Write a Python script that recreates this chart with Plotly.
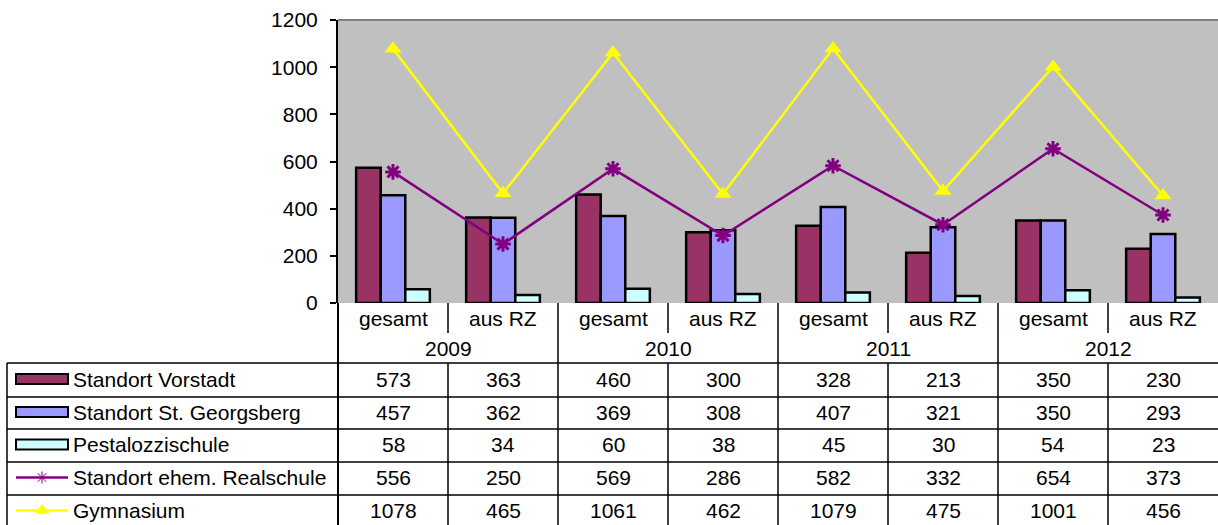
import plotly.graph_objects as go

# ---- data ----
years = ["2009", "2010", "2011", "2012"]
subcats = ["gesamt", "aus RZ"]
vorstadt = [573, 363, 460, 300, 328, 213, 350, 230]
georgsberg = [457, 362, 369, 308, 407, 321, 350, 293]
pestalozzi = [58, 34, 60, 38, 45, 30, 54, 23]
realschule = [556, 250, 569, 286, 582, 332, 654, 373]
gymnasium = [1078, 465, 1061, 462, 1079, 475, 1001, 456]

series_names = ["Standort Vorstadt", "Standort St. Georgsberg", "Pestalozzischule",
                "Standort ehem. Realschule", "Gymnasium"]
series_values = [vorstadt, georgsberg, pestalozzi, realschule, gymnasium]
bar_colors = ["#993366", "#9999FF", "#CCFFFF"]
purple = "#800080"
yellow = "#FFFF00"

# ---- page geometry (pixels) ----
W, H = 1218, 525
PL, PR, PT, PB = 338, 1218, 20, 303
COL_W = (PR - PL) / 8
TABLE_LEFT = 7
ROW_LINES = [363, 397, 429, 462, 495, 528]
FONT = dict(family="Liberation Sans, Arial, sans-serif", size=21, color="black")

n = len(vorstadt)
xs = list(range(n))

fig = go.Figure()

# clustered bars
for name, vals, col in zip(series_names[:3], series_values[:3], bar_colors):
    fig.add_trace(go.Bar(x=xs, y=vals, name=name, marker=dict(color=col, line=dict(color="black", width=2.5)),
                         xaxis="x", yaxis="y", showlegend=False))

# line series
fig.add_trace(go.Scatter(x=xs, y=realschule, mode="lines+markers", line=dict(color=purple, width=2.5),
                         marker=dict(symbol="asterisk-open", size=13, color=purple, line=dict(color=purple, width=3)),
                         xaxis="x", yaxis="y", showlegend=False))
fig.add_trace(go.Scatter(x=xs, y=gymnasium, mode="lines+markers", line=dict(color=yellow, width=2.5),
                         marker=dict(symbol="triangle-up", size=15, color=yellow),
                         xaxis="x", yaxis="y", showlegend=False))

shapes = []
annotations = []

def hline(x0, x1, y, w=1.5, color="black"):
    shapes.append(dict(type="line", xref="x2", yref="y2", x0=x0, x1=x1, y0=y, y1=y,
                       line=dict(color=color, width=w), layer="above"))

def vline(x, y0, y1, w=1.5, color="black"):
    shapes.append(dict(type="line", xref="x2", yref="y2", x0=x, x1=x, y0=y0, y1=y1,
                       line=dict(color=color, width=w), layer="above"))

def text(x, y, s, xanchor="center"):
    annotations.append(dict(xref="x2", yref="y2", x=x, y=y, text=s, showarrow=False,
                            xanchor=xanchor, yanchor="middle", font=FONT))

# plot background and top border
shapes.append(dict(type="rect", xref="x domain", yref="y domain", x0=0, x1=1, y0=0, y1=1,
                   fillcolor="#C0C0C0", line=dict(width=0), layer="below"))
shapes.append(dict(type="line", xref="x domain", yref="y domain", x0=0, x1=1, y0=1, y1=1,
                   line=dict(color="#808080", width=2), layer="above"))

# category axis labels
for i in range(n):
    cx = PL + COL_W * (i + 0.5)
    text(cx, 318, subcats[i % 2])
for j, yr in enumerate(years):
    cx = PL + COL_W * (2 * j + 1)
    text(cx, 348, yr)
    # divider between the two sub-categories of a year
    vline(PL + COL_W * (2 * j + 1), PB, 333)
    vline(PL + COL_W * (2 * j + 1), ROW_LINES[0], H + 2)
    # year dividers
    if j > 0:
        vline(PL + COL_W * 2 * j, PB, H + 2)

vline(PL, PB, H + 2, w=2)
vline(TABLE_LEFT, ROW_LINES[0], H + 2)
for y in ROW_LINES[:-1]:
    hline(TABLE_LEFT, W, y)

# table rows: legend key, name and values
for r, (name, vals) in enumerate(zip(series_names, series_values)):
    cy = (ROW_LINES[r] + ROW_LINES[r + 1]) / 2 - 1
    if r < 3:
        shapes.append(dict(type="rect", xref="x2", yref="y2", x0=16, x1=68, y0=cy - 5, y1=cy + 5,
                           fillcolor=bar_colors[r], line=dict(color="black", width=2), layer="above"))
    text(71, cy, name, xanchor="left")
    for i, v in enumerate(vals):
        text(PL + COL_W * (i + 0.5), cy, str(v))

cy4 = (ROW_LINES[3] + ROW_LINES[4]) / 2 - 1
cy5 = (ROW_LINES[4] + ROW_LINES[5]) / 2 - 1
fig.add_trace(go.Scatter(x=[16, 42, 68], y=[cy4] * 3, mode="lines", line=dict(color=purple, width=2.5),
                         xaxis="x2", yaxis="y2", showlegend=False, hoverinfo="skip"))
fig.add_trace(go.Scatter(x=[42], y=[cy4], mode="markers",
                         marker=dict(symbol="asterisk-open", size=10, color=purple, line=dict(color=purple, width=1)),
                         xaxis="x2", yaxis="y2", showlegend=False, hoverinfo="skip"))
fig.add_trace(go.Scatter(x=[16, 42, 68], y=[cy5] * 3, mode="lines", line=dict(color=yellow, width=2.5),
                         xaxis="x2", yaxis="y2", showlegend=False, hoverinfo="skip"))
fig.add_trace(go.Scatter(x=[42], y=[cy5], mode="markers",
                         marker=dict(symbol="triangle-up", size=13, color=yellow),
                         xaxis="x2", yaxis="y2", showlegend=False, hoverinfo="skip"))

fig.update_layout(
    template="none",
    width=W, height=H,
    margin=dict(l=0, r=0, t=0, b=0, pad=0, autoexpand=False),
    paper_bgcolor="white",
    plot_bgcolor="rgba(0,0,0,0)",
    barmode="group", bargap=0.33, bargroupgap=0,
    showlegend=False,
    xaxis=dict(domain=[PL / W, PR / W], range=[-0.5, n - 0.5], showticklabels=False, ticks="",
               showgrid=False, zeroline=False, showline=False, fixedrange=True, anchor="y",
               automargin=False),
    yaxis=dict(domain=[(H - PB) / H, (H - PT) / H], range=[0, 1200], tickvals=list(range(0, 1201, 200)),
               ticks="outside", ticklen=6, tickwidth=2, tickcolor="black", showgrid=False, zeroline=False,
               showline=True, linewidth=2, linecolor="black", tickfont=FONT, ticklabelstandoff=8,
               fixedrange=True, anchor="x", automargin=False),
    xaxis2=dict(domain=[0, 1], range=[0, W], visible=False, fixedrange=True, anchor="y2", automargin=False),
    yaxis2=dict(domain=[0, 1], range=[H, 0], visible=False, fixedrange=True, anchor="x2", automargin=False),
    shapes=shapes,
    annotations=annotations,
)

fig.write_html("out.html")
